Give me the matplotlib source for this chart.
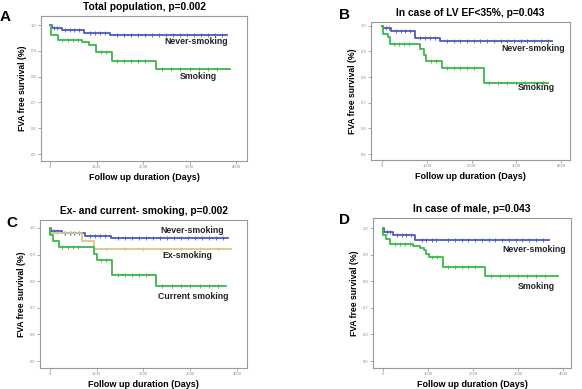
import matplotlib.pyplot as plt
import numpy as np

plt.rcParams['font.family'] = ['Liberation Sans', 'DejaVu Sans']

# Kaplan-Meier step values (days, survival)
a_never_t = [0, 35, 250, 740, 1300, 3800]
a_never_s = [1.0, 0.988, 0.982, 0.969, 0.961, 0.961]
a_smk_t = [0, 20, 170, 690, 845, 985, 1340, 2275, 3870]
a_smk_s = [1.0, 0.960, 0.943, 0.934, 0.922, 0.895, 0.861, 0.830, 0.830]

b_never_t = [0, 20, 210, 730, 1305, 3790]
b_never_s = [1.0, 0.990, 0.980, 0.952, 0.940, 0.940]
b_smk_t = [0, 15, 135, 170, 845, 940, 990, 1340, 2285, 3715]
b_smk_s = [1.0, 0.968, 0.958, 0.931, 0.909, 0.887, 0.862, 0.835, 0.779, 0.779]

c_never_t = [0, 30, 250, 740, 1300, 3800]
c_never_s = [1.0, 0.988, 0.982, 0.969, 0.961, 0.961]
c_ex_t = [0, 10, 690, 935, 3870]
c_ex_s = [1.0, 0.982, 0.950, 0.922, 0.922]
c_cur_t = [0, 5, 70, 190, 940, 1000, 1320, 2275, 3770]
c_cur_s = [1.0, 0.975, 0.952, 0.927, 0.904, 0.880, 0.825, 0.781, 0.781]

d_never_t = [0, 15, 220, 720, 3700]
d_never_s = [1.0, 0.985, 0.9725, 0.956, 0.956]
d_smk_t = [0, 5, 60, 150, 670, 815, 910, 960, 1020, 1335, 2275, 3890]
d_smk_s = [1.0, 0.9725, 0.960, 0.941, 0.932, 0.925, 0.916, 0.904, 0.890, 0.855, 0.821, 0.821]

# censored observations (tick marks on the curves)
cens_never = [90, 160, 320, 420, 520, 620, 860, 960, 1080, 1180, 1450, 1600, 1750, 1900,
              2050, 2200, 2350, 2500, 2650, 2800, 2950, 3100, 3250, 3400, 3550, 3700]
cens_smk = [260, 380, 500, 600, 1100, 1200, 1450, 1600, 1750, 1900, 2050, 2400, 2600,
            2800, 3000, 3200, 3400, 3600]
cens_ex = [150, 300, 450, 1200, 1600, 2000, 2400, 2800, 3200, 3600]

yticks = [0.5, 0.6, 0.7, 0.8, 0.9, 1.0]
xticks = [0, 1000, 2000, 3000, 4000]

blue = '#4a5cbc'
green = '#3cb64a'
tan = '#d6c78e'

fig = plt.figure(figsize=(5.82, 3.89), dpi=100)

panels = [
    # letter, title, rect, xlim, ylim, series, labels
    ('A', 'Total population, p=0.002', [41/582, 1-161/389, 206/582, 145/389], (-193, 4235), (0.473, 1.035),
     [(a_never_t, a_never_s, blue, cens_never), (a_smk_t, a_smk_s, green, cens_smk)],
     [('Never-smoking', 3150, 0.938), ('Smoking', 3190, 0.800)]),
    ('B', 'In case of LV EF<35%, p=0.043', [371/582, 1-160/389, 199/582, 138/389], (-246, 4201), (0.477, 1.015),
     [(b_never_t, b_never_s, blue, cens_never), (b_smk_t, b_smk_s, green, cens_smk)],
     [('Never-smoking', 3374, 0.910), ('Smoking', 3441, 0.758)]),
    ('C', 'Ex- and current- smoking, p=0.002', [40/582, 1-368/389, 207/582, 148/389], (-213, 4215), (0.474, 1.030),
     [(c_never_t, c_never_s, blue, cens_never), (c_ex_t, c_ex_s, tan, cens_ex), (c_cur_t, c_cur_s, green, cens_smk)],
     [('Never-smoking', 3037, 0.989), ('Ex-smoking', 2930, 0.895), ('Current smoking', 3059, 0.744)]),
    ('D', 'In case of male, p=0.043', [373/582, 1-368/389, 198/582, 150/389], (-222, 4178), (0.474, 1.038),
     [(d_never_t, d_never_s, blue, cens_never), (d_smk_t, d_smk_s, green, cens_smk)],
     [('Never-smoking', 3355, 0.921), ('Smoking', 3400, 0.782)]),
]

for letter, title, rect, xlim, ylim, series, labels in panels:
    ax = fig.add_axes(rect)
    for t, s, col, cens in series:
        ax.step(t, s, where='post', color=col, lw=1.3)
        ct = [c for c in cens if c < t[-1]]
        cs = [s[np.searchsorted(t, c, side='right') - 1] for c in ct]
        ax.plot(ct, cs, ls='none', marker='|', ms=2.5, mew=0.6, color=col)
    for txt, x, y in labels:
        ax.text(x, y, txt, ha='center', va='center', fontsize=6.3, fontweight='bold', color='#222222')
    ax.set_xlim(*xlim)
    ax.set_ylim(*ylim)
    ax.set_xticks(xticks)
    ax.set_yticks(yticks)
    ax.set_xticklabels([str(x) for x in xticks])
    ax.set_yticklabels(['%.1f' % y for y in yticks])
    ax.tick_params(labelsize=3, colors='#888888', length=2, width=0.5, pad=1)
    for sp in ax.spines.values():
        sp.set_color('#999999')
        sp.set_linewidth(0.8)
    ax.set_title(title, fontsize=7.4, fontweight='bold', pad=4)
    ax.set_xlabel('Follow up duration (Days)', fontsize=6.5, fontweight='bold', labelpad=2.5)
    ax.set_ylabel('FVA free survival (%)', fontsize=6.2, fontweight='bold', labelpad=3)

fig.text(0.0, 1-17/389, 'A', fontsize=11, fontweight='bold', va='center')
fig.text(339/582, 1-15/389, 'B', fontsize=11, fontweight='bold', va='center')
fig.text(6/582, 1-223/389, 'C', fontsize=11, fontweight='bold', va='center')
fig.text(339/582, 1-220/389, 'D', fontsize=11, fontweight='bold', va='center')

fig.savefig('out.png', dpi=100)
